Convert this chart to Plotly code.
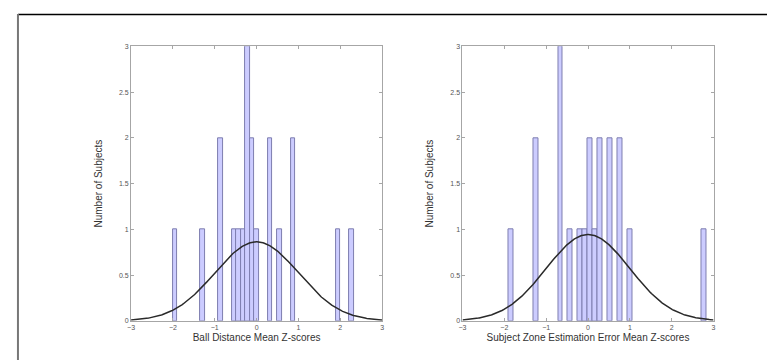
import numpy as np
import plotly.graph_objects as go

# ---- data ----
left_title = "Ball Distance Mean Z-scores"
right_title = "Subject Zone Estimation Error Mean Z-scores"
y_title = "Number of Subjects"

# 40-bin histograms (counts per bin), with data min / max
left_min, left_max = -2.00, 2.33
left_counts = [1, 0, 0, 0, 0, 0, 1, 0, 0, 0,
               2, 0, 0, 1, 1, 1, 3, 2, 1, 0,
               0, 2, 0, 1, 0, 0, 2, 0, 0, 0,
               0, 0, 0, 0, 0, 0, 1, 0, 0, 1]

right_min, right_max = -1.90, 2.83
right_counts = [1, 0, 0, 0, 0, 2, 0, 0, 0, 0,
                3, 0, 1, 0, 1, 1, 2, 1, 2, 0,
                2, 0, 2, 0, 1, 0, 0, 0, 0, 0,
                0, 0, 0, 0, 0, 0, 0, 0, 0, 1]

fit_mu, fit_sigma = 0.0, 1.0   # normal fit of z-scores

x_ticks = [-3, -2, -1, 0, 1, 2, 3]
y_ticks = [0, 0.5, 1, 1.5, 2, 2.5, 3]

BAR_FILL = "rgb(204,204,255)"
BAR_EDGE = "rgb(125,125,175)"
AX_COL = "#a6a6a6"
FONT = "Liberation Sans, Arial, sans-serif"

fig = go.Figure()


def add_panel(counts, vmin, vmax, xa, ya):
    nb = len(counts)
    w = (vmax - vmin) / nb
    centers = vmin + w * (np.arange(nb) + 0.5)
    cnt = np.array(counts, dtype=float)
    mask = cnt > 0
    fig.add_trace(go.Bar(x=centers[mask], y=cnt[mask], width=w,
                         marker=dict(color=BAR_FILL,
                                     line=dict(color=BAR_EDGE, width=1)),
                         xaxis=xa, yaxis=ya, showlegend=False))
    n = cnt.sum()
    xs = np.linspace(-3, 3, 300)
    ys = n * w * np.exp(-0.5 * ((xs - fit_mu) / fit_sigma) ** 2) / (fit_sigma * np.sqrt(2 * np.pi))
    fig.add_trace(go.Scatter(x=xs, y=ys, mode="lines",
                             line=dict(color="#2a2a2a", width=1.5),
                             xaxis=xa, yaxis=ya, showlegend=False))


add_panel(left_counts, left_min, left_max, "x", "y")
add_panel(right_counts, right_min, right_max, "x2", "y2")

top = 1 - 35 / 360
bot = 1 - 315 / 360

def xaxis_cfg(dom, title, anchor):
    return dict(domain=dom, range=[-3, 3], tickvals=x_ticks,
                ticks="inside", ticklen=3, tickcolor=AX_COL,
                showline=True, linecolor=AX_COL, linewidth=1, mirror="ticks",
                showgrid=False, zeroline=False, anchor=anchor,
                tickfont=dict(size=7, color="#555", family=FONT),
                title=dict(text=title, standoff=3,
                           font=dict(size=10, color="#333", family=FONT)))

def yaxis_cfg(anchor):
    return dict(domain=[bot, top], range=[0, 3], tickvals=y_ticks,
                ticks="inside", ticklen=3, tickcolor=AX_COL,
                showline=True, linecolor=AX_COL, linewidth=1, mirror="ticks",
                showgrid=False, zeroline=False, anchor=anchor,
                tickfont=dict(size=7, color="#555", family=FONT),
                title=dict(text=y_title, standoff=14,
                           font=dict(size=10, color="#333", family=FONT)))

fig.update_layout(
    width=775, height=360,
    margin=dict(l=0, r=0, t=0, b=0),
    paper_bgcolor="white", plot_bgcolor="white",
    bargap=0,
    xaxis=xaxis_cfg([120 / 775, 373 / 775], left_title, "y"),
    yaxis=yaxis_cfg("x"),
    xaxis2=xaxis_cfg([454 / 775, 707 / 775], right_title, "y2"),
    yaxis2=yaxis_cfg("x2"),
    shapes=[
        dict(type="line", xref="paper", yref="paper",
             x0=6 / 775, x1=1, y0=1 - 2.5 / 360, y1=1 - 2.5 / 360,
             line=dict(color="black", width=1.5)),
        dict(type="line", xref="paper", yref="paper",
             x0=6 / 775, x1=6 / 775, y0=0, y1=1 - 2 / 360,
             line=dict(color="#777777", width=2)),
    ],
)

fig.write_html("out.html")
